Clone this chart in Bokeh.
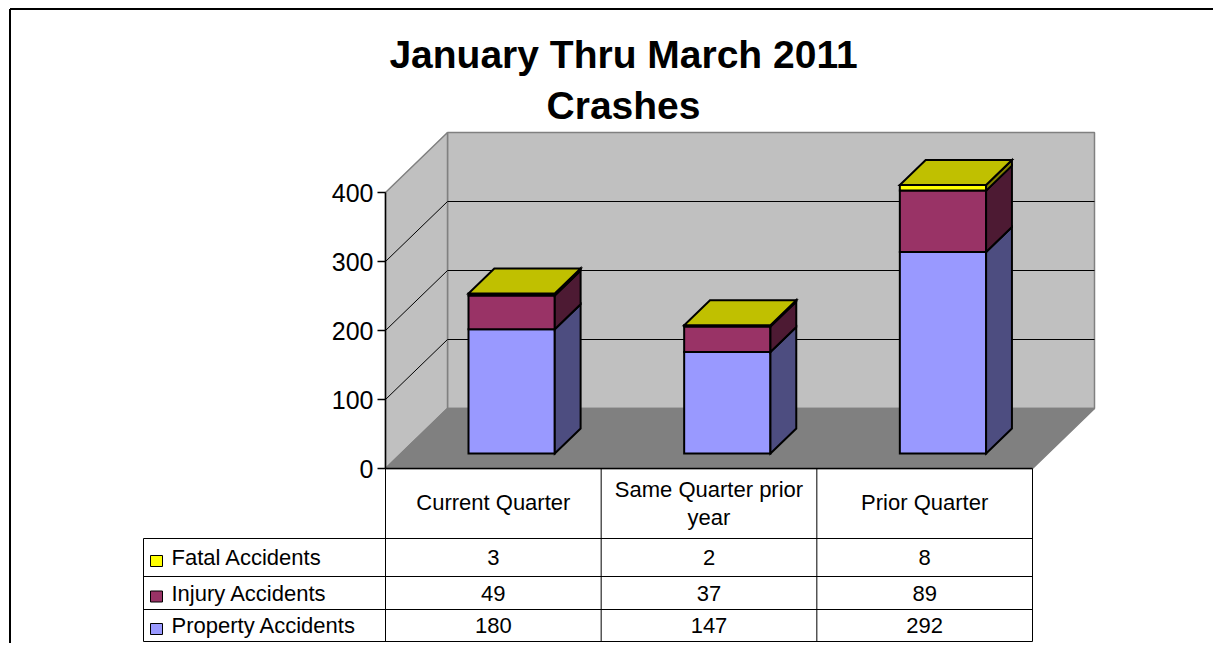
from bokeh.plotting import figure
from bokeh.models import Range1d
from bokeh.embed import file_html
from bokeh.resources import INLINE
from bokeh.core.properties import value

# ---------------- data ----------------
title_lines = ["January Thru March 2011", "Crashes"]
categories = ["Current Quarter", "Same Quarter prior year", "Prior Quarter"]
category_label_lines = [["Current Quarter"], ["Same Quarter prior", "year"], ["Prior Quarter"]]
property_acc = [180, 147, 292]
injury_acc = [49, 37, 89]
fatal_acc = [3, 2, 8]
series_names = ["Fatal Accidents", "Injury Accidents", "Property Accidents"]  # table order
y_ticks = [0, 100, 200, 300, 400]
y_max = 400

# ---------------- layout (pixels, relative to picture origin) ----------------
W, H = 1213, 643
PAGE_X, PAGE_Y = 0, 0
X0, X_END = 385, 1032
N = len(categories)
SX = (X_END - X0) / N
Y0, Y_TOP = 468, 192
SY = (Y0 - Y_TOP) / y_max
DEPTH_PX_X, DEPTH_PX_Y = 62, 60
BAR_FRONT, BAR_BACK = 0.25, 0.25 + 25 / 60
BAR_W, BAR_SHIFT = 0.4, 0.013
FONT = value("Liberation Sans")


def ux(px):
    return (px - X0) / SX


def uy(py):
    return (Y0 - py) / SY


DX = DEPTH_PX_X / SX
DY = DEPTH_PX_Y / SY


def proj(x, v, d):
    return x + d * DX, v + d * DY


def poly(pts):
    xs, ys = zip(*[proj(*p) for p in pts])
    return list(xs), list(ys)


p = figure(width=W, height=H, output_backend="svg", toolbar_location=None,
           x_range=Range1d(ux(PAGE_X), ux(PAGE_X + W)),
           y_range=Range1d(uy(PAGE_Y + H), uy(PAGE_Y)),
           min_border=0, background_fill_color="white", border_fill_color="white",
           outline_line_color=None)
p.axis.visible = False
p.grid.visible = False

# chart border (top & left visible)
p.line([ux(9.5), ux(PAGE_X + W + 5)], [uy(8.5), uy(8.5)], line_color="black", line_width=2)
p.line([ux(9.5), ux(9.5)], [uy(8.5), uy(PAGE_Y + H + 5)], line_color="black", line_width=2)

# ---------------- walls & floor ----------------
walls_xs, walls_ys, walls_fill = [], [], []
for pts, col in [
    ([(0, 0, 1), (N, 0, 1), (N, y_max, 1), (0, y_max, 1)], "#C0C0C0"),  # back wall
    ([(0, 0, 0), (0, 0, 1), (0, y_max, 1), (0, y_max, 0)], "#C0C0C0"),  # side wall
    ([(0, 0, 0), (N, 0, 0), (N, 0, 1), (0, 0, 1)], "#808080"),  # floor
]:
    xs, ys = poly(pts)
    walls_xs.append(xs)
    walls_ys.append(ys)
    walls_fill.append(col)
p.patches(walls_xs, walls_ys, fill_color=walls_fill, line_color="#808080", line_width=1.5)

# gridlines
for t in y_ticks[1:-1]:
    xs, ys = poly([(0, t, 0), (0, t, 1), (N, t, 1)])
    p.line(xs, ys, line_color="black", line_width=1)

# ---------------- bars ----------------
front_cols = ["#9999FF", "#993366", "#FFFF00"]
side_cols = ["#4D4D80", "#4D1A33", "#808000"]
top_col = "#C0C000"
bxs, bys, bfill = [], [], []
for i in range(N):
    vals = [property_acc[i], injury_acc[i], fatal_acc[i]]
    xl = i + 0.5 - BAR_W / 2 + BAR_SHIFT
    xr = xl + BAR_W
    base = 0
    for k, v in enumerate(vals):
        v0, v1 = base, base + v
        xs, ys = poly([(xl, v0, BAR_FRONT), (xr, v0, BAR_FRONT), (xr, v1, BAR_FRONT), (xl, v1, BAR_FRONT)])
        bxs.append(xs); bys.append(ys); bfill.append(front_cols[k])
        xs, ys = poly([(xr, v0, BAR_FRONT), (xr, v0, BAR_BACK), (xr, v1, BAR_BACK), (xr, v1, BAR_FRONT)])
        bxs.append(xs); bys.append(ys); bfill.append(side_cols[k])
        base = v1
    xs, ys = poly([(xl, base, BAR_FRONT), (xr, base, BAR_FRONT), (xr, base, BAR_BACK), (xl, base, BAR_BACK)])
    bxs.append(xs); bys.append(ys); bfill.append(top_col)
p.patches(bxs, bys, fill_color=bfill, line_color="black", line_width=2, line_join="miter")

# ---------------- value axis ----------------
p.line([0, 0], [0, y_max], line_color="black", line_width=1.5)
p.line([0, N], [0, 0], line_color="black", line_width=1.5)
p.segment(x0=[ux(377)] * len(y_ticks), y0=y_ticks, x1=[0] * len(y_ticks), y1=y_ticks,
          line_color="black", line_width=1.5)
p.text(x=[ux(373)] * len(y_ticks), y=y_ticks, text=[str(t) for t in y_ticks],
       text_font=FONT, text_font_size="25px", text_align="right", text_baseline="middle",
       text_color="black")

# ---------------- title ----------------
p.text(x=[ux(623)] * 2, y=[uy(54), uy(105)], text=title_lines, text_font=FONT,
       text_font_size="39px", text_font_style="bold", text_align="center",
       text_baseline="middle", text_color="black")

# ---------------- data table ----------------
row_edges = [538, 576, 609, 641]
row_centers = [557, 592.5, 625]
TLEFT = 143
tc = "black"
for i in range(N + 1):
    p.line([i, i], [uy(Y0), uy(row_edges[-1])], line_color=tc, line_width=1)
p.line([ux(TLEFT), ux(TLEFT)], [uy(row_edges[0]), uy(row_edges[-1])], line_color=tc, line_width=1)
for e in row_edges:
    p.line([ux(TLEFT), N], [uy(e), uy(e)], line_color=tc, line_width=1)

# header labels
hx, hy, ht = [], [], []
for i, lines in enumerate(category_label_lines):
    if len(lines) == 1:
        hx.append(i + 0.5); hy.append(uy(502)); ht.append(lines[0])
    else:
        for j, ln in enumerate(lines):
            hx.append(i + 0.5); hy.append(uy(489 + 28 * j)); ht.append(ln)
p.text(x=hx, y=hy, text=ht, text_font=FONT, text_font_size="22px", text_align="center",
       text_baseline="middle", text_color="black")

# rows
row_series = [fatal_acc, injury_acc, property_acc]
key_cols = ["#FFFF00", "#993366", "#9999FF"]
for r in range(3):
    cy = row_centers[r]
    p.quad(left=[ux(150)], right=[ux(162)], top=[uy(cy - 2)], bottom=[uy(cy + 9)],
           fill_color=key_cols[r], line_color="black", line_width=1)
    p.text(x=[ux(171)], y=[uy(cy)], text=[series_names[r]], text_font=FONT,
           text_font_size="22px", text_align="left", text_baseline="middle", text_color="black")
    p.text(x=[i + 0.5 for i in range(N)], y=[uy(cy)] * N, text=[str(v) for v in row_series[r]],
           text_font=FONT, text_font_size="22px", text_align="center", text_baseline="middle",
           text_color="black")

open("out.html", "w").write(file_html(p, INLINE))
